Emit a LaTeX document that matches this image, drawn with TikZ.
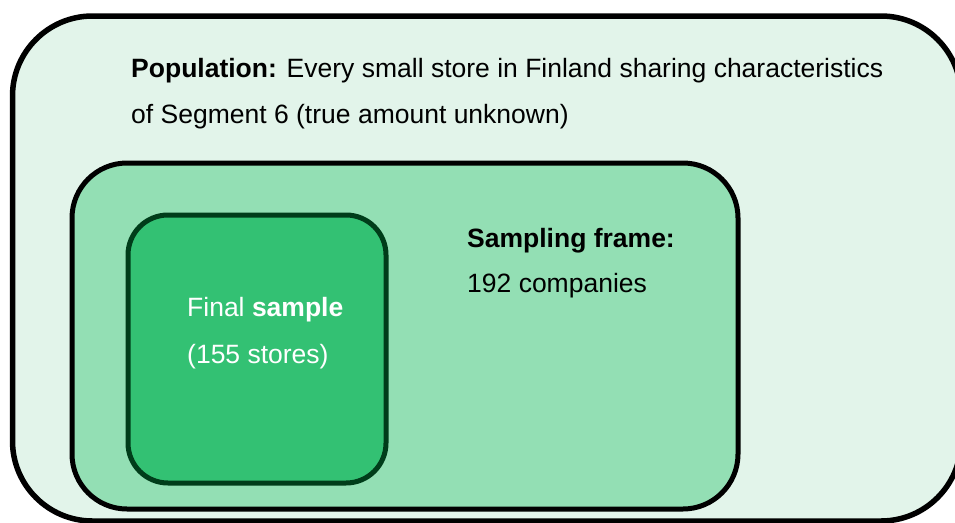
\documentclass[tikz,border=0pt]{standalone}
\usepackage{fontspec}
\setmainfont{Liberation Sans}
\definecolor{popfill}{HTML}{E2F4EA}
\definecolor{framefill}{HTML}{93DFB4}
\definecolor{samplefill}{HTML}{33C173}
\definecolor{sampledraw}{HTML}{003D1A}
\begin{document}
\begin{tikzpicture}[x=1pt,y=-1pt,
  box/.style={line width=4.5pt},
  lbl/.style={anchor=base west,inner sep=0pt,font=\fontsize{26.5}{30}\selectfont}]
\useasboundingbox (0,0) rectangle (955,522);
\clip (0,0) rectangle (955,522);
\draw[box,fill=popfill,rounded corners=80pt,line width=5.5pt] (12.5,16) rectangle (961,521);
\draw[box,fill=framefill,rounded corners=55pt,line width=5pt] (72,163) rectangle (738,509);
\draw[box,fill=samplefill,draw=sampledraw,rounded corners=40pt,line width=5pt] (128,215) rectangle (386,483);
\node[lbl] (pop1) at (131,77) {\textbf{Population:} Every small store in Finland sharing characteristics};
\node[lbl] (pop2) at (131,123) {of Segment 6 (true amount unknown)};
\node[lbl] (fr1) at (467,247) {\textbf{Sampling frame:}};
\node[lbl] (fr2) at (467,292) {192 companies};
\node[lbl,text=white] (s1) at (187,316) {Final \textbf{sample}};
\node[lbl,text=white] (s2) at (187,363) {(155 stores)};
\end{tikzpicture}
\end{document}
